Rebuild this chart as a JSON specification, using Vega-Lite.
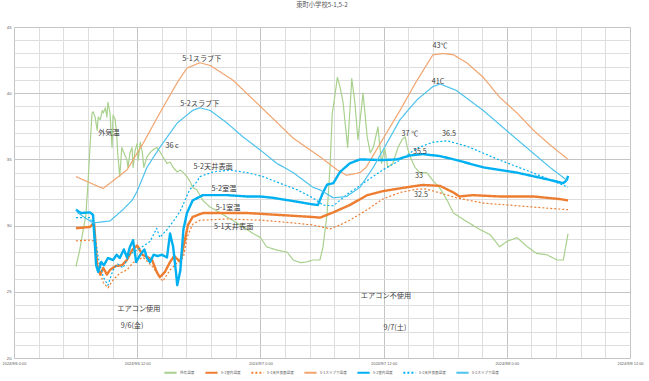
{
  "$schema": "https://vega.github.io/schema/vega-lite/v6.json",
  "width": 616,
  "height": 331,
  "autosize": {"type": "none"},
  "padding": {"left": 14, "top": 27, "right": 19, "bottom": 23},
  "background": "white",
  "title": {"text": "東町小学校5-1,5-2", "fontSize": 6.3, "color": "#595959", "font": "Noto Sans CJK JP", "fontWeight": "normal", "anchor": "middle", "offset": 17},
  "config": {"view": {"stroke": null}, "font": "Noto Sans CJK JP"},
  "resolve": {"axis": {"x": "independent", "y": "independent"}},
  "layer": [
    {
      "data": {"values": [
        {"s":"外気温度","t":"2024-09-06T06:02","v":26.9},{"s":"外気温度","t":"2024-09-06T06:24","v":28.15},{"s":"外気温度","t":"2024-09-06T06:42","v":29.5},{"s":"外気温度","t":"2024-09-06T07:00","v":30.8},{"s":"外気温度","t":"2024-09-06T07:12","v":33.1},{"s":"外気温度","t":"2024-09-06T07:24","v":35.9},{"s":"外気温度","t":"2024-09-06T07:36","v":38.5},{"s":"外気温度","t":"2024-09-06T07:42","v":38.6},{"s":"外気温度","t":"2024-09-06T07:54","v":38.2},{"s":"外気温度","t":"2024-09-06T08:06","v":37.2},{"s":"外気温度","t":"2024-09-06T08:12","v":38.2},{"s":"外気温度","t":"2024-09-06T08:24","v":38.0},{"s":"外気温度","t":"2024-09-06T08:36","v":38.7},{"s":"外気温度","t":"2024-09-06T08:42","v":38.5},{"s":"外気温度","t":"2024-09-06T08:54","v":38.9},{"s":"外気温度","t":"2024-09-06T09:03","v":38.2},{"s":"外気温度","t":"2024-09-06T09:09","v":39.3},{"s":"外気温度","t":"2024-09-06T09:21","v":38.5},{"s":"外気温度","t":"2024-09-06T09:33","v":35.9},{"s":"外気温度","t":"2024-09-06T09:39","v":38.35},{"s":"外気温度","t":"2024-09-06T09:51","v":38.0},{"s":"外気温度","t":"2024-09-06T10:00","v":37.0},{"s":"外気温度","t":"2024-09-06T10:06","v":35.5},{"s":"外気温度","t":"2024-09-06T10:18","v":33.7},{"s":"外気温度","t":"2024-09-06T10:30","v":35.9},{"s":"外気温度","t":"2024-09-06T10:36","v":35.7},{"s":"外気温度","t":"2024-09-06T11:00","v":34.95},{"s":"外気温度","t":"2024-09-06T11:06","v":34.4},{"s":"外気温度","t":"2024-09-06T11:18","v":35.5},{"s":"外気温度","t":"2024-09-06T11:30","v":35.9},{"s":"外気温度","t":"2024-09-06T11:36","v":34.4},{"s":"外気温度","t":"2024-09-06T11:48","v":35.7},{"s":"外気温度","t":"2024-09-06T12:00","v":36.2},{"s":"外気温度","t":"2024-09-06T12:06","v":34.95},{"s":"外気温度","t":"2024-09-06T12:18","v":36.3},{"s":"外気温度","t":"2024-09-06T12:30","v":35.5},{"s":"外気温度","t":"2024-09-06T12:39","v":34.4},{"s":"外気温度","t":"2024-09-06T12:57","v":35.2},{"s":"外気温度","t":"2024-09-06T13:15","v":35.5},{"s":"外気温度","t":"2024-09-06T13:30","v":35.7},{"s":"外気温度","t":"2024-09-06T13:54","v":35.9},{"s":"外気温度","t":"2024-09-06T14:12","v":35.6},{"s":"外気温度","t":"2024-09-06T14:30","v":35.2},{"s":"外気温度","t":"2024-09-06T14:54","v":34.7},{"s":"外気温度","t":"2024-09-06T15:12","v":34.8},{"s":"外気温度","t":"2024-09-06T15:30","v":34.4},{"s":"外気温度","t":"2024-09-06T15:54","v":34.05},{"s":"外気温度","t":"2024-09-06T16:12","v":34.2},{"s":"外気温度","t":"2024-09-06T16:30","v":34.0},{"s":"外気温度","t":"2024-09-06T16:51","v":33.7},{"s":"外気温度","t":"2024-09-06T17:06","v":33.4},{"s":"外気温度","t":"2024-09-06T17:24","v":32.9},{"s":"外気温度","t":"2024-09-06T17:48","v":32.7},{"s":"外気温度","t":"2024-09-06T18:24","v":31.9},{"s":"外気温度","t":"2024-09-06T19:06","v":31.4},{"s":"外気温度","t":"2024-09-06T20:06","v":30.95},{"s":"外気温度","t":"2024-09-06T21:18","v":30.4},{"s":"外気温度","t":"2024-09-06T22:00","v":30.05},{"s":"外気温度","t":"2024-09-06T22:42","v":29.7},{"s":"外気温度","t":"2024-09-06T23:18","v":29.4},{"s":"外気温度","t":"2024-09-07T00:00","v":29.1},{"s":"外気温度","t":"2024-09-07T00:36","v":28.4},{"s":"外気温度","t":"2024-09-07T01:36","v":28.15},{"s":"外気温度","t":"2024-09-07T02:36","v":28.0},{"s":"外気温度","t":"2024-09-07T03:12","v":27.4},{"s":"外気温度","t":"2024-09-07T03:54","v":27.2},{"s":"外気温度","t":"2024-09-07T04:30","v":27.25},{"s":"外気温度","t":"2024-09-07T05:06","v":27.4},{"s":"外気温度","t":"2024-09-07T05:48","v":27.4},{"s":"外気温度","t":"2024-09-07T06:06","v":28.4},{"s":"外気温度","t":"2024-09-07T06:30","v":30.95},{"s":"外気温度","t":"2024-09-07T06:48","v":34.7},{"s":"外気温度","t":"2024-09-07T07:00","v":38.5},{"s":"外気温度","t":"2024-09-07T07:06","v":38.96},{"s":"外気温度","t":"2024-09-07T07:30","v":41.2},{"s":"外気温度","t":"2024-09-07T07:45","v":40.5},{"s":"外気温度","t":"2024-09-07T08:03","v":39.3},{"s":"外気温度","t":"2024-09-07T08:30","v":35.9},{"s":"外気温度","t":"2024-09-07T08:54","v":41.1},{"s":"外気温度","t":"2024-09-07T09:12","v":39.3},{"s":"外気温度","t":"2024-09-07T09:30","v":36.5},{"s":"外気温度","t":"2024-09-07T10:00","v":40.0},{"s":"外気温度","t":"2024-09-07T10:24","v":36.7},{"s":"外気温度","t":"2024-09-07T10:42","v":35.5},{"s":"外気温度","t":"2024-09-07T11:00","v":35.9},{"s":"外気温度","t":"2024-09-07T11:27","v":37.45},{"s":"外気温度","t":"2024-09-07T11:48","v":34.7},{"s":"外気温度","t":"2024-09-07T12:06","v":35.9},{"s":"外気温度","t":"2024-09-07T12:24","v":34.4},{"s":"外気温度","t":"2024-09-07T12:54","v":34.7},{"s":"外気温度","t":"2024-09-07T13:24","v":35.9},{"s":"外気温度","t":"2024-09-07T13:48","v":36.5},{"s":"外気温度","t":"2024-09-07T14:06","v":36.7},{"s":"外気温度","t":"2024-09-07T14:18","v":35.9},{"s":"外気温度","t":"2024-09-07T14:36","v":35.2},{"s":"外気温度","t":"2024-09-07T15:03","v":34.4},{"s":"外気温度","t":"2024-09-07T15:30","v":34.0},{"s":"外気温度","t":"2024-09-07T16:12","v":34.0},{"s":"外気温度","t":"2024-09-07T16:48","v":33.4},{"s":"外気温度","t":"2024-09-07T17:30","v":32.8},{"s":"外気温度","t":"2024-09-07T18:12","v":31.9},{"s":"外気温度","t":"2024-09-07T18:48","v":30.95},{"s":"外気温度","t":"2024-09-07T20:06","v":30.3},{"s":"外気温度","t":"2024-09-07T21:24","v":29.7},{"s":"外気温度","t":"2024-09-07T22:24","v":29.3},{"s":"外気温度","t":"2024-09-07T23:18","v":28.4},{"s":"外気温度","t":"2024-09-08T00:00","v":28.8},{"s":"外気温度","t":"2024-09-08T01:00","v":29.1},{"s":"外気温度","t":"2024-09-08T02:00","v":28.4},{"s":"外気温度","t":"2024-09-08T02:54","v":27.9},{"s":"外気温度","t":"2024-09-08T03:54","v":27.8},{"s":"外気温度","t":"2024-09-08T04:54","v":27.4},{"s":"外気温度","t":"2024-09-08T05:30","v":27.4},{"s":"外気温度","t":"2024-09-08T05:58","v":29.4},

        {"s":"5-1室内温度","t":"2024-09-06T06:02","v":29.8},{"s":"5-1室内温度","t":"2024-09-06T07:24","v":29.9},{"s":"5-1室内温度","t":"2024-09-06T07:48","v":30.2},{"s":"5-1室内温度","t":"2024-09-06T08:06","v":27.0},{"s":"5-1室内温度","t":"2024-09-06T08:24","v":26.3},{"s":"5-1室内温度","t":"2024-09-06T08:42","v":26.8},{"s":"5-1室内温度","t":"2024-09-06T09:03","v":26.3},{"s":"5-1室内温度","t":"2024-09-06T09:21","v":26.65},{"s":"5-1室内温度","t":"2024-09-06T09:54","v":26.95},{"s":"5-1室内温度","t":"2024-09-06T10:30","v":27.0},{"s":"5-1室内温度","t":"2024-09-06T11:00","v":27.4},{"s":"5-1室内温度","t":"2024-09-06T11:30","v":28.15},{"s":"5-1室内温度","t":"2024-09-06T12:00","v":28.5},{"s":"5-1室内温度","t":"2024-09-06T12:30","v":27.8},{"s":"5-1室内温度","t":"2024-09-06T13:03","v":27.6},{"s":"5-1室内温度","t":"2024-09-06T13:27","v":27.4},{"s":"5-1室内温度","t":"2024-09-06T13:54","v":26.5},{"s":"5-1室内温度","t":"2024-09-06T14:12","v":26.1},{"s":"5-1室内温度","t":"2024-09-06T14:42","v":26.5},{"s":"5-1室内温度","t":"2024-09-06T15:12","v":27.25},{"s":"5-1室内温度","t":"2024-09-06T15:36","v":27.7},{"s":"5-1室内温度","t":"2024-09-06T16:12","v":27.25},{"s":"5-1室内温度","t":"2024-09-06T16:30","v":28.4},{"s":"5-1室内温度","t":"2024-09-06T16:57","v":30.05},{"s":"5-1室内温度","t":"2024-09-06T17:24","v":30.65},{"s":"5-1室内温度","t":"2024-09-06T18:24","v":30.95},{"s":"5-1室内温度","t":"2024-09-06T20:45","v":30.95},{"s":"5-1室内温度","t":"2024-09-06T22:42","v":30.95},{"s":"5-1室内温度","t":"2024-09-07T01:54","v":30.8},{"s":"5-1室内温度","t":"2024-09-07T05:06","v":30.65},{"s":"5-1室内温度","t":"2024-09-07T05:48","v":30.6},{"s":"5-1室内温度","t":"2024-09-07T07:06","v":31.0},{"s":"5-1室内温度","t":"2024-09-07T08:42","v":31.55},{"s":"5-1室内温度","t":"2024-09-07T10:24","v":32.3},{"s":"5-1室内温度","t":"2024-09-07T11:54","v":32.6},{"s":"5-1室内温度","t":"2024-09-07T14:18","v":32.9},{"s":"5-1室内温度","t":"2024-09-07T15:48","v":33.07},{"s":"5-1室内温度","t":"2024-09-07T17:30","v":33.0},{"s":"5-1室内温度","t":"2024-09-07T18:48","v":32.5},{"s":"5-1室内温度","t":"2024-09-07T19:24","v":32.2},{"s":"5-1室内温度","t":"2024-09-07T20:42","v":32.3},{"s":"5-1室内温度","t":"2024-09-07T23:18","v":32.2},{"s":"5-1室内温度","t":"2024-09-08T02:36","v":32.2},{"s":"5-1室内温度","t":"2024-09-08T05:12","v":32.0},{"s":"5-1室内温度","t":"2024-09-08T05:58","v":31.9},

        {"s":"5-1天井表面温度","t":"2024-09-06T06:02","v":28.85},{"s":"5-1天井表面温度","t":"2024-09-06T07:24","v":28.9},{"s":"5-1天井表面温度","t":"2024-09-06T07:48","v":28.85},{"s":"5-1天井表面温度","t":"2024-09-06T08:06","v":27.4},{"s":"5-1天井表面温度","t":"2024-09-06T08:24","v":26.4},{"s":"5-1天井表面温度","t":"2024-09-06T08:42","v":25.7},{"s":"5-1天井表面温度","t":"2024-09-06T09:09","v":25.3},{"s":"5-1天井表面温度","t":"2024-09-06T09:39","v":25.9},{"s":"5-1天井表面温度","t":"2024-09-06T10:18","v":26.4},{"s":"5-1天井表面温度","t":"2024-09-06T11:00","v":26.65},{"s":"5-1天井表面温度","t":"2024-09-06T11:36","v":27.2},{"s":"5-1天井表面温度","t":"2024-09-06T12:34","v":27.6},{"s":"5-1天井表面温度","t":"2024-09-06T13:30","v":26.9},{"s":"5-1天井表面温度","t":"2024-09-06T14:12","v":26.1},{"s":"5-1天井表面温度","t":"2024-09-06T14:30","v":25.8},{"s":"5-1天井表面温度","t":"2024-09-06T15:12","v":26.65},{"s":"5-1天井表面温度","t":"2024-09-06T15:54","v":27.2},{"s":"5-1天井表面温度","t":"2024-09-06T16:30","v":27.6},{"s":"5-1天井表面温度","t":"2024-09-06T16:51","v":29.1},{"s":"5-1天井表面温度","t":"2024-09-06T17:24","v":30.1},{"s":"5-1天井表面温度","t":"2024-09-06T18:06","v":30.4},{"s":"5-1天井表面温度","t":"2024-09-06T20:45","v":30.5},{"s":"5-1天井表面温度","t":"2024-09-07T00:15","v":30.4},{"s":"5-1天井表面温度","t":"2024-09-07T03:12","v":30.2},{"s":"5-1天井表面温度","t":"2024-09-07T05:06","v":30.05},{"s":"5-1天井表面温度","t":"2024-09-07T06:48","v":29.75},{"s":"5-1天井表面温度","t":"2024-09-07T07:45","v":30.05},{"s":"5-1天井表面温度","t":"2024-09-07T08:42","v":30.4},{"s":"5-1天井表面温度","t":"2024-09-07T10:24","v":31.2},{"s":"5-1天井表面温度","t":"2024-09-07T11:54","v":32.0},{"s":"5-1天井表面温度","t":"2024-09-07T13:36","v":32.5},{"s":"5-1天井表面温度","t":"2024-09-07T15:15","v":32.75},{"s":"5-1天井表面温度","t":"2024-09-07T16:12","v":32.75},{"s":"5-1天井表面温度","t":"2024-09-07T17:48","v":32.4},{"s":"5-1天井表面温度","t":"2024-09-07T19:06","v":32.1},{"s":"5-1天井表面温度","t":"2024-09-07T21:42","v":31.7},{"s":"5-1天井表面温度","t":"2024-09-08T01:00","v":31.5},{"s":"5-1天井表面温度","t":"2024-09-08T04:12","v":31.3},{"s":"5-1天井表面温度","t":"2024-09-08T05:58","v":31.2},

        {"s":"5-1スラブ下温度","t":"2024-09-06T06:02","v":33.7},{"s":"5-1スラブ下温度","t":"2024-09-06T08:40","v":32.8},{"s":"5-1スラブ下温度","t":"2024-09-06T11:00","v":34.2},{"s":"5-1スラブ下温度","t":"2024-09-06T12:34","v":36.2},{"s":"5-1スラブ下温度","t":"2024-09-06T14:12","v":38.5},{"s":"5-1スラブ下温度","t":"2024-09-06T15:54","v":40.8},{"s":"5-1スラブ下温度","t":"2024-09-06T16:51","v":41.9},{"s":"5-1スラブ下温度","t":"2024-09-06T18:06","v":42.3},{"s":"5-1スラブ下温度","t":"2024-09-06T19:06","v":42.1},{"s":"5-1スラブ下温度","t":"2024-09-06T21:18","v":41.0},{"s":"5-1スラブ下温度","t":"2024-09-07T00:00","v":39.0},{"s":"5-1スラブ下温度","t":"2024-09-07T03:12","v":36.6},{"s":"5-1スラブ下温度","t":"2024-09-07T05:48","v":35.2},{"s":"5-1スラブ下温度","t":"2024-09-07T07:30","v":34.2},{"s":"5-1スラブ下温度","t":"2024-09-07T08:24","v":33.8},{"s":"5-1スラブ下温度","t":"2024-09-07T09:42","v":34.0},{"s":"5-1スラブ下温度","t":"2024-09-07T10:18","v":34.4},{"s":"5-1スラブ下温度","t":"2024-09-07T11:54","v":36.5},{"s":"5-1スラブ下温度","t":"2024-09-07T13:36","v":38.7},{"s":"5-1スラブ下温度","t":"2024-09-07T15:12","v":40.9},{"s":"5-1スラブ下温度","t":"2024-09-07T16:48","v":42.9},{"s":"5-1スラブ下温度","t":"2024-09-07T17:48","v":43.0},{"s":"5-1スラブ下温度","t":"2024-09-07T18:48","v":42.9},{"s":"5-1スラブ下温度","t":"2024-09-07T20:06","v":42.3},{"s":"5-1スラブ下温度","t":"2024-09-07T21:42","v":41.2},{"s":"5-1スラブ下温度","t":"2024-09-07T23:18","v":39.7},{"s":"5-1スラブ下温度","t":"2024-09-08T01:00","v":38.5},{"s":"5-1スラブ下温度","t":"2024-09-08T02:36","v":37.2},{"s":"5-1スラブ下温度","t":"2024-09-08T04:12","v":36.1},{"s":"5-1スラブ下温度","t":"2024-09-08T05:58","v":35.0},

        {"s":"5-2室内温度","t":"2024-09-06T06:02","v":31.2},{"s":"5-2室内温度","t":"2024-09-06T06:30","v":30.95},{"s":"5-2室内温度","t":"2024-09-06T07:24","v":31.0},{"s":"5-2室内温度","t":"2024-09-06T07:42","v":30.8},{"s":"5-2室内温度","t":"2024-09-06T08:00","v":27.0},{"s":"5-2室内温度","t":"2024-09-06T08:12","v":26.5},{"s":"5-2室内温度","t":"2024-09-06T08:30","v":27.25},{"s":"5-2室内温度","t":"2024-09-06T08:45","v":27.0},{"s":"5-2室内温度","t":"2024-09-06T09:09","v":27.55},{"s":"5-2室内温度","t":"2024-09-06T09:39","v":27.4},{"s":"5-2室内温度","t":"2024-09-06T10:00","v":27.8},{"s":"5-2室内温度","t":"2024-09-06T10:18","v":27.55},{"s":"5-2室内温度","t":"2024-09-06T10:42","v":28.2},{"s":"5-2室内温度","t":"2024-09-06T11:00","v":27.6},{"s":"5-2室内温度","t":"2024-09-06T11:18","v":28.4},{"s":"5-2室内温度","t":"2024-09-06T11:36","v":28.9},{"s":"5-2室内温度","t":"2024-09-06T11:54","v":27.25},{"s":"5-2室内温度","t":"2024-09-06T12:18","v":27.8},{"s":"5-2室内温度","t":"2024-09-06T12:42","v":28.2},{"s":"5-2室内温度","t":"2024-09-06T12:57","v":27.55},{"s":"5-2室内温度","t":"2024-09-06T13:15","v":27.25},{"s":"5-2室内温度","t":"2024-09-06T13:36","v":27.8},{"s":"5-2室内温度","t":"2024-09-06T14:00","v":27.7},{"s":"5-2室内温度","t":"2024-09-06T14:24","v":27.8},{"s":"5-2室内温度","t":"2024-09-06T14:54","v":27.6},{"s":"5-2室内温度","t":"2024-09-06T15:12","v":29.4},{"s":"5-2室内温度","t":"2024-09-06T15:30","v":28.4},{"s":"5-2室内温度","t":"2024-09-06T15:48","v":26.3},{"s":"5-2室内温度","t":"2024-09-06T15:54","v":25.5},{"s":"5-2室内温度","t":"2024-09-06T16:12","v":26.6},{"s":"5-2室内温度","t":"2024-09-06T16:30","v":29.7},{"s":"5-2室内温度","t":"2024-09-06T16:51","v":30.95},{"s":"5-2室内温度","t":"2024-09-06T17:24","v":31.9},{"s":"5-2室内温度","t":"2024-09-06T18:24","v":32.3},{"s":"5-2室内温度","t":"2024-09-06T20:45","v":32.3},{"s":"5-2室内温度","t":"2024-09-06T22:42","v":32.2},{"s":"5-2室内温度","t":"2024-09-07T00:00","v":32.2},{"s":"5-2室内温度","t":"2024-09-07T01:12","v":32.1},{"s":"5-2室内温度","t":"2024-09-07T03:36","v":31.8},{"s":"5-2室内温度","t":"2024-09-07T05:06","v":31.6},{"s":"5-2室内温度","t":"2024-09-07T05:36","v":31.55},{"s":"5-2室内温度","t":"2024-09-07T06:06","v":32.5},{"s":"5-2室内温度","t":"2024-09-07T06:30","v":33.1},{"s":"5-2室内温度","t":"2024-09-07T07:06","v":33.2},{"s":"5-2室内温度","t":"2024-09-07T07:45","v":34.05},{"s":"5-2室内温度","t":"2024-09-07T08:42","v":34.7},{"s":"5-2室内温度","t":"2024-09-07T09:42","v":35.0},{"s":"5-2室内温度","t":"2024-09-07T11:54","v":34.95},{"s":"5-2室内温度","t":"2024-09-07T13:18","v":35.0},{"s":"5-2室内温度","t":"2024-09-07T14:36","v":35.3},{"s":"5-2室内温度","t":"2024-09-07T15:48","v":35.4},{"s":"5-2室内温度","t":"2024-09-07T17:30","v":35.25},{"s":"5-2室内温度","t":"2024-09-07T19:06","v":34.95},{"s":"5-2室内温度","t":"2024-09-07T21:42","v":34.4},{"s":"5-2室内温度","t":"2024-09-08T01:00","v":34.0},{"s":"5-2室内温度","t":"2024-09-08T04:12","v":33.45},{"s":"5-2室内温度","t":"2024-09-08T05:30","v":33.2},{"s":"5-2室内温度","t":"2024-09-08T05:51","v":33.45},{"s":"5-2室内温度","t":"2024-09-08T05:58","v":33.75},

        {"s":"5-2天井表面温度","t":"2024-09-06T06:02","v":30.6},{"s":"5-2天井表面温度","t":"2024-09-06T07:24","v":30.6},{"s":"5-2天井表面温度","t":"2024-09-06T07:48","v":29.8},{"s":"5-2天井表面温度","t":"2024-09-06T08:12","v":27.6},{"s":"5-2天井表面温度","t":"2024-09-06T08:42","v":26.1},{"s":"5-2天井表面温度","t":"2024-09-06T09:09","v":25.5},{"s":"5-2天井表面温度","t":"2024-09-06T09:39","v":26.65},{"s":"5-2天井表面温度","t":"2024-09-06T10:06","v":27.1},{"s":"5-2天井表面温度","t":"2024-09-06T10:36","v":26.8},{"s":"5-2天井表面温度","t":"2024-09-06T11:18","v":27.85},{"s":"5-2天井表面温度","t":"2024-09-06T12:18","v":28.3},{"s":"5-2天井表面温度","t":"2024-09-06T13:15","v":28.8},{"s":"5-2天井表面温度","t":"2024-09-06T13:54","v":29.8},{"s":"5-2天井表面温度","t":"2024-09-06T14:12","v":29.1},{"s":"5-2天井表面温度","t":"2024-09-06T14:54","v":29.7},{"s":"5-2天井表面温度","t":"2024-09-06T15:30","v":30.3},{"s":"5-2天井表面温度","t":"2024-09-06T16:12","v":31.1},{"s":"5-2天井表面温度","t":"2024-09-06T16:39","v":31.9},{"s":"5-2天井表面温度","t":"2024-09-06T17:06","v":32.7},{"s":"5-2天井表面温度","t":"2024-09-06T17:48","v":33.3},{"s":"5-2天井表面温度","t":"2024-09-06T18:06","v":33.7},{"s":"5-2天井表面温度","t":"2024-09-06T19:24","v":34.05},{"s":"5-2天井表面温度","t":"2024-09-06T21:00","v":34.2},{"s":"5-2天井表面温度","t":"2024-09-06T22:42","v":34.0},{"s":"5-2天井表面温度","t":"2024-09-07T00:15","v":33.7},{"s":"5-2天井表面温度","t":"2024-09-07T01:54","v":33.2},{"s":"5-2天井表面温度","t":"2024-09-07T03:36","v":32.7},{"s":"5-2天井表面温度","t":"2024-09-07T05:06","v":32.1},{"s":"5-2天井表面温度","t":"2024-09-07T06:06","v":31.55},{"s":"5-2天井表面温度","t":"2024-09-07T07:06","v":31.5},{"s":"5-2天井表面温度","t":"2024-09-07T08:42","v":32.5},{"s":"5-2天井表面温度","t":"2024-09-07T10:24","v":33.4},{"s":"5-2天井表面温度","t":"2024-09-07T11:54","v":34.2},{"s":"5-2天井表面温度","t":"2024-09-07T13:36","v":34.95},{"s":"5-2天井表面温度","t":"2024-09-07T15:15","v":35.85},{"s":"5-2天井表面温度","t":"2024-09-07T16:48","v":36.3},{"s":"5-2天井表面温度","t":"2024-09-07T18:12","v":36.4},{"s":"5-2天井表面温度","t":"2024-09-07T20:06","v":36.0},{"s":"5-2天井表面温度","t":"2024-09-07T23:18","v":34.95},{"s":"5-2天井表面温度","t":"2024-09-08T02:36","v":33.97},{"s":"5-2天井表面温度","t":"2024-09-08T05:30","v":33.05},{"s":"5-2天井表面温度","t":"2024-09-08T05:58","v":32.9},

        {"s":"5-2スラブ下温度","t":"2024-09-06T06:08","v":31.0},{"s":"5-2スラブ下温度","t":"2024-09-06T07:42","v":30.2},{"s":"5-2スラブ下温度","t":"2024-09-06T09:21","v":30.35},{"s":"5-2スラブ下温度","t":"2024-09-06T10:36","v":31.2},{"s":"5-2スラブ下温度","t":"2024-09-06T11:30","v":31.9},{"s":"5-2スラブ下温度","t":"2024-09-06T12:00","v":32.6},{"s":"5-2スラブ下温度","t":"2024-09-06T12:57","v":34.4},{"s":"5-2スラブ下温度","t":"2024-09-06T14:12","v":35.9},{"s":"5-2スラブ下温度","t":"2024-09-06T15:54","v":37.75},{"s":"5-2スラブ下温度","t":"2024-09-06T17:24","v":38.7},{"s":"5-2スラブ下温度","t":"2024-09-06T18:06","v":38.9},{"s":"5-2スラブ下温度","t":"2024-09-06T19:06","v":38.7},{"s":"5-2スラブ下温度","t":"2024-09-06T20:45","v":37.75},{"s":"5-2スラブ下温度","t":"2024-09-06T22:18","v":36.7},{"s":"5-2スラブ下温度","t":"2024-09-07T00:00","v":35.7},{"s":"5-2スラブ下温度","t":"2024-09-07T01:36","v":34.7},{"s":"5-2スラブ下温度","t":"2024-09-07T03:12","v":34.0},{"s":"5-2スラブ下温度","t":"2024-09-07T05:06","v":32.9},{"s":"5-2スラブ下温度","t":"2024-09-07T05:48","v":32.7},{"s":"5-2スラブ下温度","t":"2024-09-07T07:06","v":32.1},{"s":"5-2スラブ下温度","t":"2024-09-07T08:24","v":32.2},{"s":"5-2スラブ下温度","t":"2024-09-07T09:42","v":32.9},{"s":"5-2スラブ下温度","t":"2024-09-07T11:00","v":34.4},{"s":"5-2スラブ下温度","t":"2024-09-07T12:18","v":36.2},{"s":"5-2スラブ下温度","t":"2024-09-07T13:36","v":38.0},{"s":"5-2スラブ下温度","t":"2024-09-07T15:15","v":39.5},{"s":"5-2スラブ下温度","t":"2024-09-07T16:48","v":40.5},{"s":"5-2スラブ下温度","t":"2024-09-07T17:30","v":40.7},{"s":"5-2スラブ下温度","t":"2024-09-07T19:06","v":40.2},{"s":"5-2スラブ下温度","t":"2024-09-07T21:42","v":38.7},{"s":"5-2スラブ下温度","t":"2024-09-08T01:00","v":36.5},{"s":"5-2スラブ下温度","t":"2024-09-08T04:12","v":34.4},{"s":"5-2スラブ下温度","t":"2024-09-08T05:54","v":33.4}
      ]},
      "mark": {"type": "line", "strokeJoin": "round", "strokeCap": "butt"},
      "encoding": {
        "x": {
          "field": "t", "type": "temporal",
          "scale": {"domain": [{"year": 2024, "month": 9, "date": 6, "hours": 0}, {"year": 2024, "month": 9, "date": 8, "hours": 12}]},
          "axis": {
            "title": null,
            "orient": "bottom",
            "values": [
              {"year":2024,"month":9,"date":6,"hours":2,"minutes":24},{"year":2024,"month":9,"date":6,"hours":4,"minutes":48},{"year":2024,"month":9,"date":6,"hours":7,"minutes":12},{"year":2024,"month":9,"date":6,"hours":9,"minutes":36},{"year":2024,"month":9,"date":6,"hours":14,"minutes":24},{"year":2024,"month":9,"date":6,"hours":16,"minutes":48},{"year":2024,"month":9,"date":6,"hours":19,"minutes":12},{"year":2024,"month":9,"date":6,"hours":21,"minutes":36},
              {"year":2024,"month":9,"date":7,"hours":2,"minutes":24},{"year":2024,"month":9,"date":7,"hours":4,"minutes":48},{"year":2024,"month":9,"date":7,"hours":7,"minutes":12},{"year":2024,"month":9,"date":7,"hours":9,"minutes":36},{"year":2024,"month":9,"date":7,"hours":14,"minutes":24},{"year":2024,"month":9,"date":7,"hours":16,"minutes":48},{"year":2024,"month":9,"date":7,"hours":19,"minutes":12},{"year":2024,"month":9,"date":7,"hours":21,"minutes":36},
              {"year":2024,"month":9,"date":8,"hours":2,"minutes":24},{"year":2024,"month":9,"date":8,"hours":4,"minutes":48},{"year":2024,"month":9,"date":8,"hours":7,"minutes":12},{"year":2024,"month":9,"date":8,"hours":9,"minutes":36}
            ],
            "labels": false,
            "ticks": false,
            "domain": false,
            "grid": true,
            "gridWidth": 1,
            "gridColor": "#DEDEDE"
          }
        },
        "y": {
          "field": "v", "type": "quantitative",
          "scale": {"domain": [20, 45], "nice": false, "zero": false},
          "axis": {
            "title": null,
            "orient": "left",
            "values": [21,22,23,24,26,27,28,29,31,32,33,34,36,37,38,39,41,42,43,44],
            "labels": false,
            "ticks": false,
            "domain": false,
            "grid": true,
            "gridWidth": 1,
            "gridColor": "#DEDEDE"
          }
        },
        "color": {
          "field": "s", "type": "nominal",
          "scale": {
            "domain": ["外気温度", "5-1室内温度", "5-1天井表面温度", "5-1スラブ下温度", "5-2室内温度", "5-2天井表面温度", "5-2スラブ下温度"],
            "range": ["#A9D18E", "#ED7D31", "#ED7D31", "#F2A46E", "#00B0F0", "#00B0F0", "#4CC2EC"]
          },
          "legend": {
            "title": null,
            "orient": "none",
            "direction": "horizontal",
            "legendX": 149,
            "legendY": 338,
            "symbolType": "stroke",
            "symbolSize": 150,
            "symbolStrokeWidth": 2,
            "labelFontSize": 3.6,
            "labelColor": "#595959",
            "labelFont": "Noto Sans CJK JP",
            "labelOffset": 2,
            "columnPadding": 6,
            "padding": 0
          }
        },
        "strokeDash": {
          "field": "s", "type": "nominal",
          "scale": {
            "domain": ["外気温度", "5-1室内温度", "5-1天井表面温度", "5-1スラブ下温度", "5-2室内温度", "5-2天井表面温度", "5-2スラブ下温度"],
            "range": [[1, 0], [1, 0], [2, 2], [1, 0], [1, 0], [2, 2], [1, 0]]
          }
        },
        "strokeWidth": {
          "condition": {"test": "indexof(datum.s, '室内') >= 0", "value": 2.4},
          "value": 1.2
        }
      }
    },
    {
      "data": {"values": [
        {"label": "5-1スラブ下", "t": "2024-09-06T18:18", "v": 42.58},
        {"label": "5-2スラブ下", "t": "2024-09-06T18:06", "v": 39.2},
        {"label": "外気温", "t": "2024-09-06T09:15", "v": 37.0},
        {"label": "36 c", "t": "2024-09-06T15:24", "v": 36.0},
        {"label": "5-2天井表面", "t": "2024-09-06T19:24", "v": 34.43},
        {"label": "5-2室温", "t": "2024-09-06T20:27", "v": 32.76},
        {"label": "5-1室温", "t": "2024-09-06T20:51", "v": 31.33},
        {"label": "5-1天井表面", "t": "2024-09-06T21:24", "v": 29.9},
        {"label": "43℃", "t": "2024-09-07T17:30", "v": 43.56},
        {"label": "41C", "t": "2024-09-07T17:18", "v": 40.85},
        {"label": "37 ℃", "t": "2024-09-07T14:34", "v": 36.9},
        {"label": "36.5", "t": "2024-09-07T18:22", "v": 36.9},
        {"label": "35.5", "t": "2024-09-07T15:32", "v": 35.56},
        {"label": "33", "t": "2024-09-07T15:27", "v": 33.75},
        {"label": "32.5", "t": "2024-09-07T15:38", "v": 32.3},
        {"label": "エアコン使用", "t": "2024-09-06T12:10", "v": 23.7},
        {"label": "9/6(金)", "t": "2024-09-06T11:30", "v": 22.4},
        {"label": "エアコン不使用", "t": "2024-09-07T12:14", "v": 24.7},
        {"label": "9/7(土)", "t": "2024-09-07T13:06", "v": 22.27}
      ]},
      "mark": {"type": "text", "font": "Noto Sans CJK JP", "fontSize": 7.2, "color": "#404040", "align": "center", "baseline": "middle"},
      "encoding": {
        "x": {
          "field": "t", "type": "temporal",
          "axis": {
            "title": null,
            "orient": "bottom",
            "values": [
              {"year":2024,"month":9,"date":6,"hours":0,"minutes":0},{"year":2024,"month":9,"date":6,"hours":12,"minutes":0},
              {"year":2024,"month":9,"date":7,"hours":0,"minutes":0},{"year":2024,"month":9,"date":7,"hours":12,"minutes":0},
              {"year":2024,"month":9,"date":8,"hours":0,"minutes":0},{"year":2024,"month":9,"date":8,"hours":12,"minutes":0}
            ],
            "labelExpr": "timeFormat(datum.value, '%Y/%-m/%-d %-H:%M')",
            "labelFontSize": 3.9,
            "labelColor": "#595959",
            "labelFont": "Liberation Sans",
            "labelOverlap": false,
            "labelBound": false,
            "labelFlush": false,
            "labelPadding": 3,
            "ticks": false,
            "domain": false,
            "grid": true,
            "gridWidth": 1,
            "gridColor": "#C4C4C4"
          }
        },
        "y": {
          "field": "v", "type": "quantitative",
          "axis": {
            "title": null,
            "orient": "left",
            "values": [20, 25, 30, 35, 40, 45],
            "labelFontSize": 4.2,
            "labelColor": "#595959",
            "labelFont": "Liberation Sans",
            "labelOverlap": false,
            "labelPadding": 3,
            "ticks": false,
            "domain": false,
            "grid": true,
            "gridWidth": 1,
            "gridColor": "#C4C4C4"
          }
        },
        "text": {"field": "label", "type": "nominal"}
      }
    }
  ]
}
